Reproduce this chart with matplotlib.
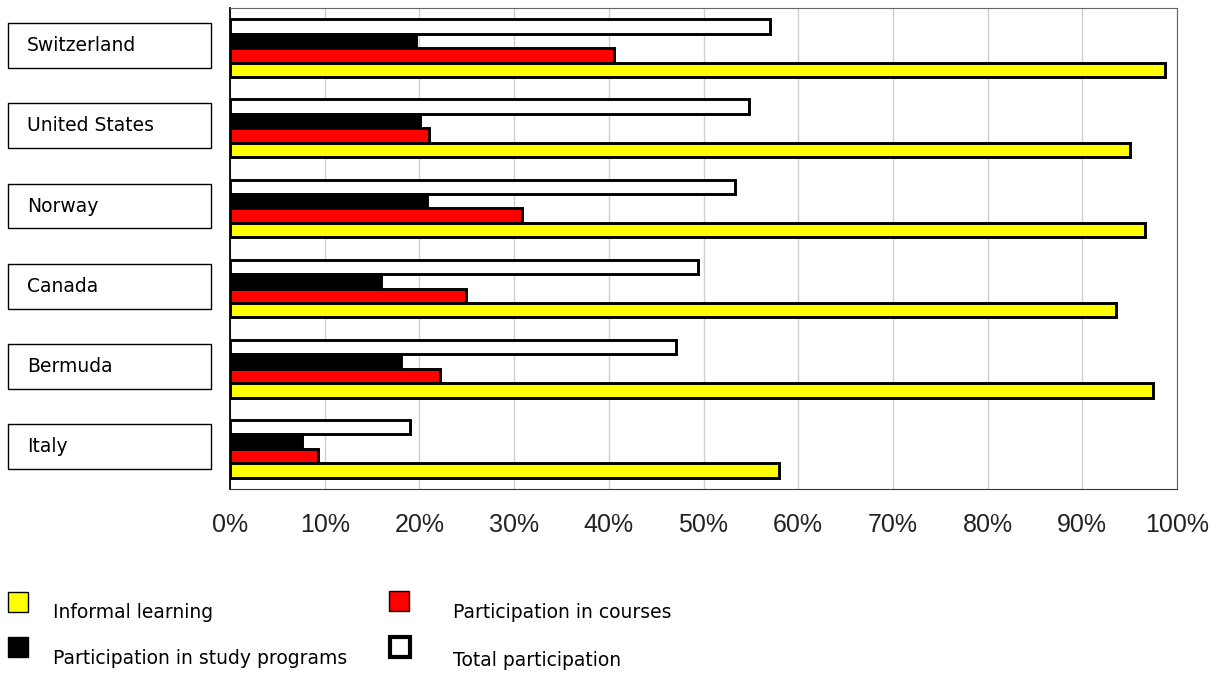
import numpy as np
import matplotlib
matplotlib.use('Agg')
import matplotlib.pyplot as plt
import matplotlib.transforms as mtransforms
from matplotlib.patches import Rectangle

countries = ['Switzerland', 'United States', 'Norway', 'Canada', 'Bermuda', 'Italy']
total = [57.0, 54.8, 53.3, 49.4, 47.1, 19.0]
study_programs = [19.6, 20.1, 20.8, 15.9, 18.1, 7.6]
courses = [40.5, 21.0, 30.8, 24.9, 22.2, 9.3]
informal = [98.7, 95.0, 96.6, 93.6, 97.5, 58.0]

series = [('Total participation', total, 'white'),
          ('Participation in study programs', study_programs, 'black'),
          ('Participation in courses', courses, '#ff0000'),
          ('Informal learning', informal, '#ffff00')]

label_font = 'DejaVu Sans'

fig = plt.figure(figsize=(12.15, 6.73), dpi=100)
ax = fig.add_axes([230/1215., 1 - 489/673., (1177 - 230)/1215., (489 - 8)/673.])

y = np.arange(len(countries))
h = 0.18
offsets = [-1.5*h, -0.5*h, 0.5*h, 1.5*h]
for (name, vals, col), off in zip(series, offsets):
    ax.barh(y + off, vals, height=h, color=col, edgecolor='black',
            linewidth=2.1, zorder=3)

ax.set_xlim(0, 100)
ax.set_ylim(len(countries) - 0.5, -0.5)
ax.set_xticks(np.arange(0, 101, 10))
ax.set_xticklabels(['%d%%' % v for v in range(0, 101, 10)],
                   fontfamily='Liberation Sans', fontsize=18, color='#222222')
ax.tick_params(axis='x', length=0, pad=17)
ax.set_yticks([])
ax.grid(axis='x', color='#d0d0d0', linewidth=1.0, zorder=0)
for s in ['top', 'right']:
    ax.spines[s].set_color('#666666')
ax.spines['bottom'].set_color('#333333')
ax.spines['left'].set_color('black')
ax.spines['left'].set_linewidth(1.3)

# category labels in boxes at the left
trans = mtransforms.blended_transform_factory(fig.transFigure, ax.transData)
box_h = 0.56
for i, c in enumerate(countries):
    cy = i - 0.03
    fig.patches.append(Rectangle((8/1215., cy - box_h/2), (211 - 8)/1215., box_h,
                                 transform=trans, facecolor='white',
                                 edgecolor='black', linewidth=1.0))
    fig.text(27/1215., cy, c, transform=trans, va='center', ha='left',
             fontfamily=label_font, fontsize=13.5, color='black')

# legend at the bottom
legend_items = [('Informal learning', '#ffff00', 8, 592, 53, 612),
                ('Participation in courses', '#ff0000', 389, 591, 453, 612),
                ('Participation in study programs', 'black', 8, 637, 53, 659),
                ('Total participation', 'white', 390, 637, 453, 660)]
for name, col, bx, by, tx, ty in legend_items:
    lw = 3.0 if col == 'white' else 1.0
    fig.patches.append(Rectangle((bx/1215., 1 - (by + 20)/673.), 20/1215., 20/673.,
                                 transform=fig.transFigure, facecolor=col,
                                 edgecolor='black', linewidth=lw))
    fig.text(tx/1215., 1 - ty/673., name, va='center', ha='left',
             fontfamily=label_font, fontsize=13.5, color='black')

fig.savefig('out.png', dpi=100)
